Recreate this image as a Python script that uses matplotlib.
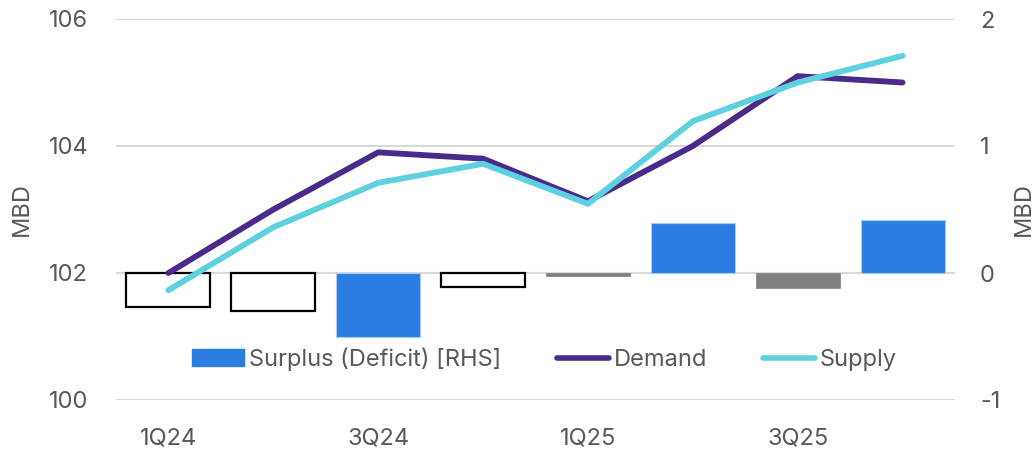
import matplotlib
matplotlib.use("Agg")
import matplotlib.pyplot as plt
from matplotlib.patches import Patch
from matplotlib.lines import Line2D
import numpy as np

plt.rcParams['font.family'] = ['Inter', 'DejaVu Sans']

quarters = ["1Q24", "2Q24", "3Q24", "4Q24", "1Q25", "2Q25", "3Q25", "4Q25"]
demand = [102.0, 103.0, 103.9, 103.8, 103.13, 104.0, 105.1, 105.0]
supply = [101.73, 102.72, 103.42, 103.72, 103.09, 104.39, 105.0, 105.42]
surplus = [-0.27, -0.30, -0.50, -0.11, -0.02, 0.39, -0.12, 0.42]
bar_kind = ["hollow", "hollow", "blue", "hollow", "gray", "blue", "gray", "blue"]
shown_ticks = ["1Q24", "3Q24", "1Q25", "3Q25"]

BLUE = "#2B7DE1"
GRAY = "#808080"
DEMAND_C = "#4A2A8A"
SUPPLY_C = "#5ED1E0"
TXT = "#595959"
GRID = "#D9D9D9"
FS = 17

fig = plt.figure(figsize=(10.33, 4.51), dpi=100)
ax = fig.add_axes([116/1033, 1-400/451, (955-116)/1033, (400-19)/451])
ax2 = ax.twinx()

x = np.arange(len(quarters))

# bars on right axis
for xi, v, k in zip(x, surplus, bar_kind):
    if k == "hollow":
        ax2.bar(xi, v, width=0.8, facecolor="white", edgecolor="black", linewidth=1.6, zorder=2)
    elif k == "blue":
        ax2.bar(xi, v, width=0.8, facecolor=BLUE, edgecolor="#A9CBF2", linewidth=0.8, zorder=2)
    else:
        ax2.bar(xi, v, width=0.8, facecolor=GRAY, edgecolor=GRAY, linewidth=0.5, zorder=2)

ax2.set_ylim(-1, 2)
ax2.set_yticks([-1, 0, 1, 2])
ax2.set_yticklabels(["-1", "0", "1", "2"])
ax2.yaxis.grid(True, color=GRID, linewidth=1.5, zorder=0)
ax2.set_axisbelow(True)

# lines on left axis, drawn on top
ax.set_zorder(ax2.get_zorder() + 1)
ax.patch.set_visible(False)
ax.plot(x, demand, color=DEMAND_C, linewidth=4.2, solid_capstyle="round", solid_joinstyle="round", zorder=3)
ax.plot(x, supply, color=SUPPLY_C, linewidth=4.2, solid_capstyle="round", solid_joinstyle="round", zorder=4)

ax.set_ylim(100, 106)
ax.set_yticks([100, 102, 104, 106])
ax.set_xlim(-0.5, len(quarters) - 0.5)
ticks_pos = [quarters.index(q) for q in shown_ticks]
ax.set_xticks(ticks_pos)
ax.set_xticklabels(shown_ticks)

for a in (ax, ax2):
    for s in a.spines.values():
        s.set_visible(False)
    a.tick_params(length=0, labelsize=FS, labelcolor=TXT)
ax.tick_params(axis="y", pad=20)
ax.tick_params(axis="x", pad=20)
ax2.tick_params(axis="y", pad=18)

ax.set_ylabel("MBD", fontsize=FS, color=TXT)
ax.yaxis.set_label_coords((33-116)/839, 0.5)
ax2.set_ylabel("MBD", fontsize=FS, color=TXT)
ax2.yaxis.set_label_coords((1013-116)/839, 0.5)

handles = [
    Patch(facecolor=BLUE, edgecolor=BLUE),
    Line2D([0], [0], color=DEMAND_C, linewidth=4.0, solid_capstyle="round"),
    Line2D([0], [0], color=SUPPLY_C, linewidth=4.0, solid_capstyle="round"),
]
labels = ["Surplus (Deficit) [RHS]", "Demand", "Supply"]
leg = ax.legend(handles, labels, ncol=3, frameon=False, loc="center",
                bbox_to_anchor=((544.5-116)/839, (400-359)/381), fontsize=FS,
                handlelength=2.2, handletextpad=0.2, columnspacing=2.36,
                handleheight=0.68, borderpad=0, borderaxespad=0)
for t in leg.get_texts():
    t.set_color(TXT)

fig.savefig("out.png", dpi=100)
